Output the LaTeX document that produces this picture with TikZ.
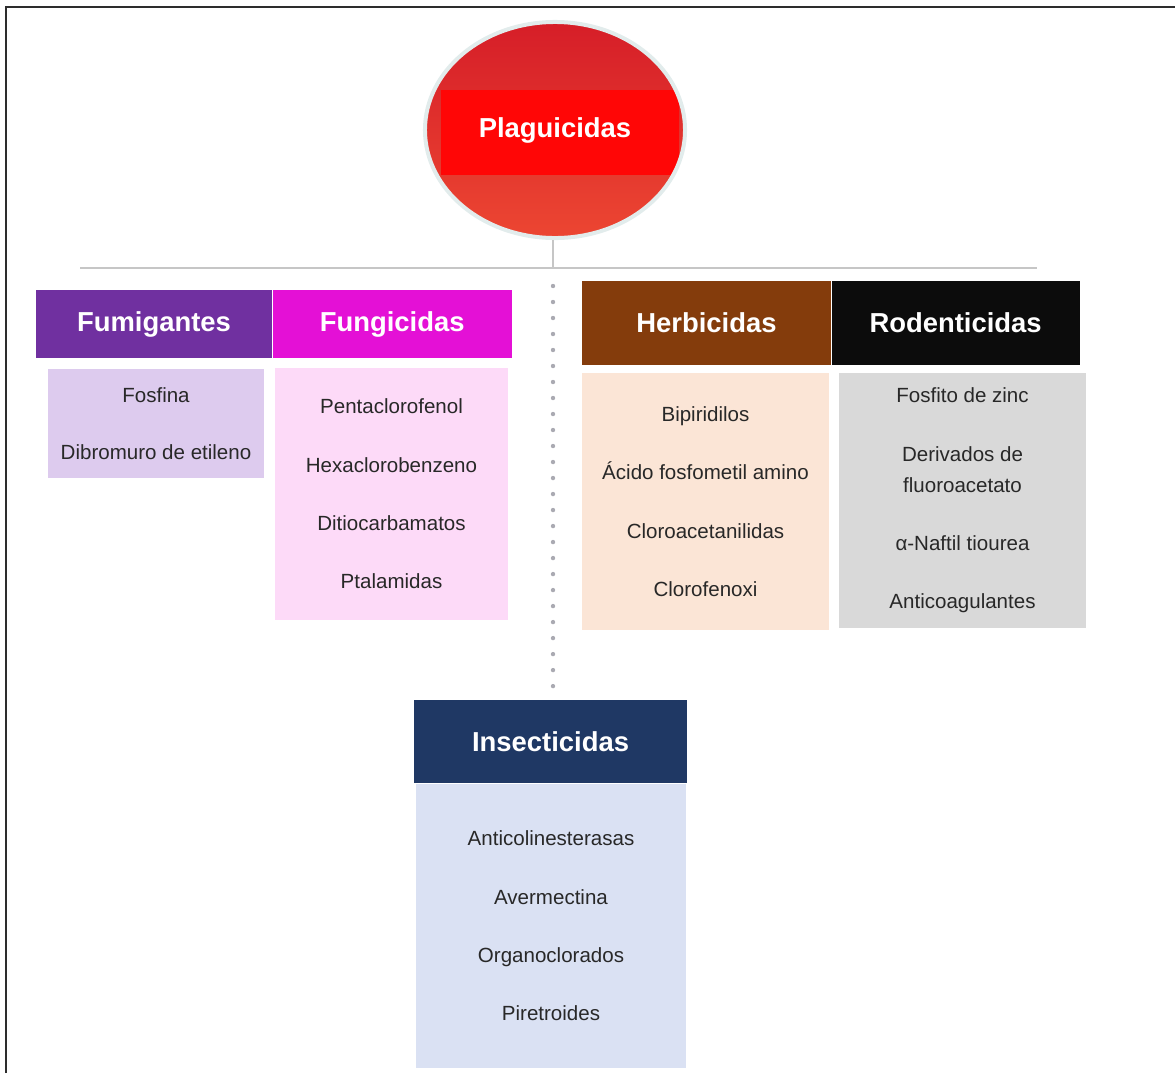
\documentclass[tikz,border=0pt]{standalone}
\usepackage{fontspec}
\setmainfont{Liberation Sans}
\usetikzlibrary{positioning,shapes.geometric}
\definecolor{fumdark}{RGB}{112,48,160}
\definecolor{fumlight}{RGB}{221,203,238}
\definecolor{fundark}{RGB}{228,16,214}
\definecolor{funlight}{RGB}{253,218,248}
\definecolor{herdark}{RGB}{132,60,12}
\definecolor{herlight}{RGB}{251,229,214}
\definecolor{roddark}{RGB}{12,12,12}
\definecolor{rodlight}{RGB}{217,217,217}
\definecolor{insdark}{RGB}{31,56,100}
\definecolor{inslight}{RGB}{218,225,243}
\definecolor{rootred}{RGB}{214,30,40}
\definecolor{rootlow}{RGB}{236,70,50}
\definecolor{bandred}{RGB}{255,6,6}
\definecolor{ringgray}{RGB}{226,236,236}
\definecolor{linegray}{RGB}{198,198,198}
\definecolor{dotgray}{RGB}{170,170,178}
\definecolor{itemgray}{RGB}{40,40,40}
\definecolor{framegray}{RGB}{45,45,45}

\begin{document}
\begin{tikzpicture}[x=0.025cm,y=-0.025cm,
  every node/.style={font=\fontsize{14.6}{41.5}\selectfont,text=itemgray},
  hd/.style={inner sep=0pt,font=\fontsize{19.5}{23}\selectfont\bfseries,text=white},
  bd/.style={inner sep=0pt,align=center},
  ln/.style={draw=linegray,line width=0.07cm},
  dots/.style={draw=dotgray,line width=0.11cm,line cap=round,dash pattern=on 0pt off 0.4cm}]
\useasboundingbox (0,0) rectangle (1175,1073);
\draw[framegray,line width=0.05cm] (6,1073) -- (6,7) -- (1175,7);

% root
\node[hd,ellipse,draw=ringgray,line width=0.1cm,minimum width=6.5cm,minimum height=5.4cm,
  top color=rootred,bottom color=rootlow,
  path picture={\fill[bandred] ([xshift=-2.85cm,yshift=1cm]path picture bounding box.center)
    rectangle ([xshift=3.1cm,yshift=-1.125cm]path picture bounding box.center);}]
  (root) at (555,130) {Plaguicidas};

% branches
\coordinate (jn) at (553,268);
\coordinate (hl) at (80,268);
\coordinate (hr) at (1037,268);
\draw[ln] (hl) -- (hr);
\draw[ln,line width=0.05cm] (root.south -| jn) -- (jn);

% headers
\node[hd,fill=fumdark,minimum width=5.9cm,minimum height=1.7cm] (fum) at (154,324) {Fumigantes};
\node[hd,fill=fundark,minimum width=5.975cm,minimum height=1.7cm,right=0pt of fum] (fun) {Fungicidas};
\node[hd,fill=herdark,minimum width=6.225cm,minimum height=2.1cm] (her) at (706.5,323) {Herbicidas};
\node[hd,fill=roddark,minimum width=6.2cm,minimum height=2.1cm,right=0pt of her] (rod) {Rodenticidas};
\node[hd,fill=insdark,minimum width=6.825cm,minimum height=2.075cm] (ins) at (550.5,741.5) {Insecticidas};

% lists
\node[bd,fill=fumlight,minimum width=5.4cm,minimum height=2.725cm,font=\fontsize{14.6}{40.4}\selectfont]
  (fumB) at (156,423.5) {Fosfina\\Dibromuro de etileno};
\node[bd,fill=funlight,minimum width=5.825cm,minimum height=6.3cm]
  (funB) at (391.5,494) {Pentaclorofenol\\Hexaclorobenzeno\\Ditiocarbamatos\\Ptalamidas};
\node[bd,fill=herlight,minimum width=6.175cm,minimum height=6.425cm]
  (herB) at (705.5,501.5) {Bipiridilos\\Ácido fosfometil amino\\Cloroacetanilidas\\Clorofenoxi};
\node[bd,fill=rodlight,minimum width=6.175cm,minimum height=6.375cm]
  (rodB) at (962.5,500.5) {Fosfito de zinc\\Derivados de\\[-19.5pt]fluoroacetato\\α-Naftil tiourea\\Anticoagulantes};
\node[bd,fill=inslight,minimum width=6.75cm,minimum height=7.1cm]
  (insB) at (551,926) {Anticolinesterasas\\Avermectina\\Organoclorados\\Piretroides};

\draw[dots] (jn) ++(0,18) -- (jn |- ins.north);
\end{tikzpicture}
\end{document}
